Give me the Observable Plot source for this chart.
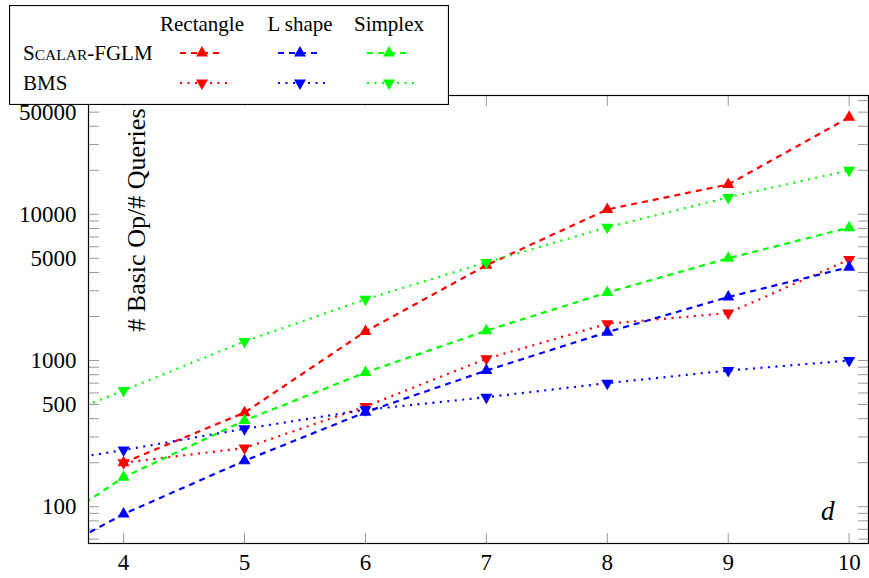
<!DOCTYPE html>
<html><head><meta charset="utf-8">
<script src="https://cdn.jsdelivr.net/npm/d3@7"></script>
<script src="https://cdn.jsdelivr.net/npm/@observablehq/plot@0.6"></script>
<style>
body{margin:0;background:#fff;}
#wrap{position:relative;width:869px;height:578px;font-family:"Liberation Serif","Times New Roman",serif;}
#wrap svg text{font-family:"Liberation Serif","Times New Roman",serif;}
#legend{position:absolute;left:9px;top:5px;}
</style></head><body><div id="wrap"></div>
<script>
// ---- data ----
const dims = [3, 4, 5, 6, 7, 8, 9, 10];
const rectScalar = [null, 200, 440, 1580, 4480, 10800, 16000, 46100];
const rectBMS    = [null, 200, 252, 484, 1027, 1783, 2110, 4900];
const lScalar    = [32, 89, 206, 443, 854, 1563, 2717, 4350];
const lBMS       = [179, 244, 341, 460, 561, 700, 854, 1000];
const simScalar  = [45, 159, 388, 828, 1600, 2920, 5000, 8110];
const simBMS     = [290, 624, 1350, 2620, 4690, 8150, 13060, 20000];
const shapes = ["Rectangle", "L shape", "Simplex"];
const methods = ["Scalar-FGLM", "BMS"];
const xTicks = [4, 5, 6, 7, 8, 9, 10];
const yLabelTicks = [100, 500, 1000, 5000, 10000, 50000];
const yMinorTicks = [60,70,80,90,100,200,300,400,500,600,700,800,900,1000,2000,3000,4000,5000,6000,7000,8000,9000,10000,20000,30000,40000,50000,60000];

const shapeColor = {"Rectangle": "#ff0000", "L shape": "#0000ff", "Simplex": "#00ff00"};
const methodDash = {"Scalar-FGLM": "6,5", "BMS": "2,5.5"};
const methodRotate = {"Scalar-FGLM": 0, "BMS": 180};

const series = [
  {shape: "Rectangle", method: "Scalar-FGLM", values: rectScalar},
  {shape: "Rectangle", method: "BMS", values: rectBMS},
  {shape: "L shape", method: "Scalar-FGLM", values: lScalar},
  {shape: "L shape", method: "BMS", values: lBMS},
  {shape: "Simplex", method: "Scalar-FGLM", values: simScalar},
  {shape: "Simplex", method: "BMS", values: simBMS}
];

const serif = "'Liberation Serif','Times New Roman',serif";
const marks = [];
for (const s of series) {
  const rows = [];
  s.values.forEach((v, i) => { if (v != null) rows.push({d: dims[i], v}); });
  marks.push(Plot.line(rows, {x: "d", y: "v", stroke: shapeColor[s.shape], strokeWidth: 2.2,
    strokeDasharray: methodDash[s.method], strokeLinecap: "butt", clip: true}));
}
for (const s of series) {
  const rows = [];
  s.values.forEach((v, i) => { if (v != null) rows.push({d: dims[i], v}); });
  marks.push(Plot.dot(rows, {x: "d", y: "v", symbol: "triangle", r: 4.5, fill: shapeColor[s.shape],
    stroke: "none", rotate: methodRotate[s.method], clip: true}));
}

const chart = Plot.plot({
  width: 869, height: 578,
  marginLeft: 88, marginRight: 1, marginTop: 95, marginBottom: 35,
  style: {fontFamily: serif, fontSize: "22px", color: "black", background: "white"},
  x: {domain: [3.71, 10.16], label: null},
  y: {type: "log", domain: [56, 65000], label: null},
  marks: [
    Plot.axisY(yMinorTicks, {anchor: "left", tickSize: -11, tickFormat: () => "", stroke: "#999", label: null}),
    Plot.axisY(yMinorTicks, {anchor: "right", tickSize: -11, tickFormat: () => "", stroke: "#999", label: null}),
    Plot.axisX(xTicks, {anchor: "bottom", tickSize: -10, tickFormat: () => "", stroke: "#999", label: null}),
    Plot.axisX(xTicks, {anchor: "top", tickSize: -10, tickFormat: () => "", stroke: "#999", label: null}),
    Plot.text(yLabelTicks, {y: d => d, frameAnchor: "left", textAnchor: "end", dx: -12, text: d => String(d),
      fontSize: 23, fontFamily: serif, fill: "black"}),
    Plot.text(xTicks, {x: d => d, frameAnchor: "bottom", lineAnchor: "top", dy: 10, text: d => String(d),
      fontSize: 23, fontFamily: serif, fill: "black"}),
    ...marks,
    Plot.frame({stroke: "black", strokeWidth: 1.2}),
    Plot.text(["# Basic Op/# Queries"], {frameAnchor: "top-left", rotate: -90, textAnchor: "end", dx: 38, dy: 13, fontSize: 26, fontFamily: serif}),
    Plot.text(["d"], {frameAnchor: "bottom-right", dx: -34, dy: -24, fontSize: 27, fontStyle: "italic", fontFamily: serif})
  ]
});
document.getElementById("wrap").appendChild(chart);

// ---- legend overlay ----
const lw = 440, lh = 100;
const leg = d3.select("#wrap").append("svg").attr("id", "legend")
  .attr("width", lw).attr("height", lh)
  .style("font-family", serif);
leg.append("rect").attr("x", 0.5).attr("y", 0.5).attr("width", lw - 1).attr("height", lh - 1)
  .attr("fill", "white").attr("stroke", "black").attr("stroke-width", 1.2);
const colX = [193, 291, 380];
shapes.forEach((sh, i) => {
  leg.append("text").attr("x", colX[i]).attr("y", 26).attr("text-anchor", "middle")
    .attr("font-size", 21).text(sh);
});
const rowY = [48, 78];
const t0 = leg.append("text").attr("x", 14).attr("y", rowY[0] + 7).attr("font-size", 21);
t0.append("tspan").text("S");
t0.append("tspan").attr("font-size", 15.5).text("CALAR");
t0.append("tspan").text("-FGLM");
leg.append("text").attr("x", 14).attr("y", rowY[1] + 7).attr("font-size", 21).text(methods[1]);
const sym = d3.symbol(d3.symbolTriangle, Math.PI * 4.5 * 4.5);
methods.forEach((m, j) => {
  shapes.forEach((sh, i) => {
    const cx = colX[i];
    leg.append("line").attr("x1", cx - 22).attr("x2", cx + 22 + (j ? 6 : 0))
      .attr("y1", rowY[j]).attr("y2", rowY[j])
      .attr("stroke", shapeColor[sh]).attr("stroke-width", 2.2)
      .attr("stroke-dasharray", methodDash[m]);
    leg.append("path").attr("d", sym())
      .attr("transform", `translate(${cx},${rowY[j]}) rotate(${methodRotate[m]})`)
      .attr("fill", shapeColor[sh]);
  });
});
</script></body></html>
